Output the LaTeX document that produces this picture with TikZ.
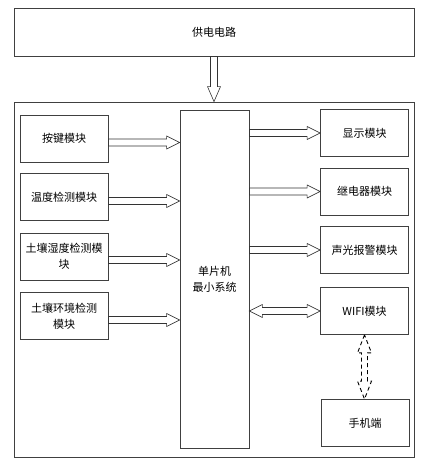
\documentclass[tikz,border=0pt]{standalone}
\usepackage{fontspec}
\newfontfamily\cjk{Noto Sans CJK SC}
\usetikzlibrary{calc}

\tikzset{
  blk/.style={draw=black!75,line width=0.8pt,inner sep=0pt,align=center,
    font=\cjk\fontsize{11}{16}\selectfont},
  harrow/.style={draw=black!80,line width=0.6pt,to path={
    let \p1=(\tikztostart), \p2=(\tikztotarget) in
    (\x1,\y1+3.5pt) -- (\x2-13pt,\y1+3.5pt) -- (\x2-13pt,\y1+6.5pt) -- (\x2,\y1)
    -- (\x2-13pt,\y1-6.5pt) -- (\x2-13pt,\y1-3.5pt) -- (\x1,\y1-3.5pt) -- cycle}},
  hharrow/.style={draw=black!80,line width=0.6pt,to path={
    let \p1=(\tikztostart), \p2=(\tikztotarget) in
    (\x1,\y1) -- (\x1+13pt,\y1+6.5pt) -- (\x1+13pt,\y1+3.5pt) -- (\x2-13pt,\y1+3.5pt)
    -- (\x2-13pt,\y1+6.5pt) -- (\x2,\y1) -- (\x2-13pt,\y1-6.5pt) -- (\x2-13pt,\y1-3.5pt)
    -- (\x1+13pt,\y1-3.5pt) -- (\x1+13pt,\y1-6.5pt) -- cycle}},
  varrow/.style={draw=black!80,line width=0.6pt,to path={
    let \p1=(\tikztostart), \p2=(\tikztotarget) in
    (\x1-3.5pt,\y1) -- (\x1-3.5pt,\y2+15pt) -- (\x1-6.5pt,\y2+15pt) -- (\x1,\y2)
    -- (\x1+6.5pt,\y2+15pt) -- (\x1+3.5pt,\y2+15pt) -- (\x1+3.5pt,\y1) -- cycle}},
  vvarrow/.style={draw=black,line width=0.9pt,dash pattern=on 4pt off 3pt,to path={
    let \p1=(\tikztostart), \p2=(\tikztotarget) in
    (\x1,\y1) -- (\x1-7pt,\y1-18pt) -- (\x1-3pt,\y1-18pt) -- (\x1-3pt,\y2+18pt)
    -- (\x1-7pt,\y2+18pt) -- (\x1,\y2) -- (\x1+7pt,\y2+18pt) -- (\x1+3pt,\y2+18pt)
    -- (\x1+3pt,\y1-18pt) -- (\x1+7pt,\y1-18pt) -- cycle}}
}

\begin{document}
\begin{tikzpicture}[x=1pt,y=-1pt]
  \useasboundingbox (0,0) rectangle (427,465);

  \node (board) [blk,minimum width=400pt,minimum height=355pt] at (214,279.5) {};
  \node (power) [blk,minimum width=400pt,minimum height=48pt] at (214,32) {供电电路};
  \node (mcu) [blk,minimum width=69pt,minimum height=338pt] at (214.5,279) {单片机\\最小系统};

  \begin{scope}[every node/.style={blk,minimum width=88pt,minimum height=47pt}]
    \node (key) at (64,138.5) {按键模块};
    \node (temp) at (64,197) {温度检测模块};
    \node (soilhum) at (64,256.5) {土壤湿度检测模\\块};
    \node (soilenv) at (64,316) {土壤环境检测\\模块};
    \node (disp) at (364.5,133) {显示模块};
    \node (relay) at (364.5,191.5) {继电器模块};
    \node (alarm) at (364.5,250) {声光报警模块};
    \node (wifi) at (364.5,311) {WIFI模块};
    \node (phone) at (365,423) {手机端};
  \end{scope}

  \path (power.south) edge[varrow] (board.north);

  \path ([yshift=-4pt]key.east) edge[harrow] (mcu.west);
  \path ([yshift=-4pt]temp.east) edge[harrow] (mcu.west);
  \path ([yshift=-3.5pt]soilhum.east) edge[harrow] (mcu.west);
  \path ([yshift=-4pt]soilenv.east) edge[harrow] (mcu.west);

  \path (mcu.east |- disp.west) edge[harrow] (disp.west);
  \path (mcu.east |- relay.west) edge[harrow] (relay.west);
  \path (mcu.east |- alarm.west) edge[harrow] (alarm.west);
  \path (mcu.east |- wifi.west) edge[hharrow] (wifi.west);

  \path (wifi.south) edge[vvarrow] (phone.north);
\end{tikzpicture}
\end{document}
